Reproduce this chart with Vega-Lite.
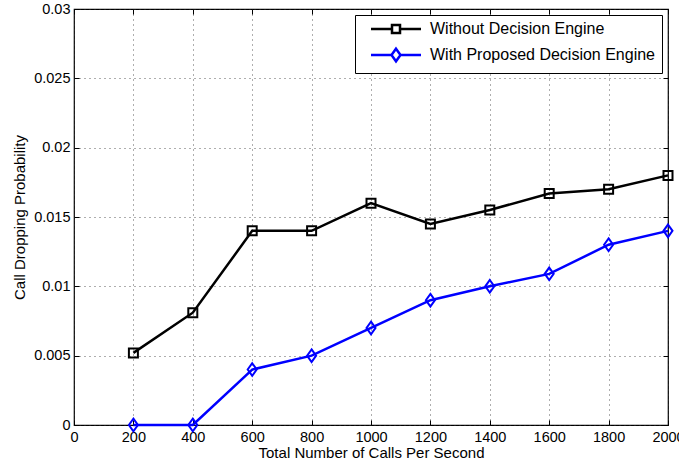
{
  "$schema": "https://vega.github.io/schema/vega-lite/v6.json",
  "width": 594,
  "height": 416,
  "autosize": {"type": "none"},
  "padding": {"left": 74, "top": 9, "right": 11, "bottom": 37},
  "background": "white",
  "config": {
    "font": "Liberation Sans",
    "view": {"stroke": "black", "strokeWidth": 1.2},
    "axis": {
      "domain": false,
      "labelFont": "Liberation Sans",
      "labelFontSize": 14.5,
      "labelColor": "black",
      "titleFont": "Liberation Sans",
      "titleFontSize": 15,
      "titleFontWeight": "normal",
      "titleColor": "black",
      "tickColor": "black",
      "tickWidth": 1,
      "tickSize": -5,
      "grid": true,
      "gridColor": "#333",
      "gridDash": [1, 4],
      "gridWidth": 0.8
    },
    "legend": {
      "title": null,
      "orient": "top-right",
      "offset": 6,
      "strokeColor": "black",
      "fillColor": "white",
      "padding": 6,
      "labelFont": "Liberation Sans",
      "labelFontSize": 16,
      "labelColor": "black",
      "labelLimit": 400,
      "symbolSize": 100,
      "symbolOffset": 27,
      "symbolStrokeWidth": 2.5,
      "symbolOpacity": 1,
      "rowPadding": 5,
      "labelOffset": 26
    }
  },
  "data": {
    "values": [
      {"calls": 200, "p": 0.0052, "series": "Without Decision Engine"},
      {"calls": 400, "p": 0.0081, "series": "Without Decision Engine"},
      {"calls": 600, "p": 0.014, "series": "Without Decision Engine"},
      {"calls": 800, "p": 0.014, "series": "Without Decision Engine"},
      {"calls": 1000, "p": 0.016, "series": "Without Decision Engine"},
      {"calls": 1200, "p": 0.0145, "series": "Without Decision Engine"},
      {"calls": 1400, "p": 0.0155, "series": "Without Decision Engine"},
      {"calls": 1600, "p": 0.0167, "series": "Without Decision Engine"},
      {"calls": 1800, "p": 0.017, "series": "Without Decision Engine"},
      {"calls": 2000, "p": 0.018, "series": "Without Decision Engine"},
      {"calls": 200, "p": 0.0, "series": "With Proposed Decision Engine"},
      {"calls": 400, "p": 0.0, "series": "With Proposed Decision Engine"},
      {"calls": 600, "p": 0.004, "series": "With Proposed Decision Engine"},
      {"calls": 800, "p": 0.005, "series": "With Proposed Decision Engine"},
      {"calls": 1000, "p": 0.007, "series": "With Proposed Decision Engine"},
      {"calls": 1200, "p": 0.009, "series": "With Proposed Decision Engine"},
      {"calls": 1400, "p": 0.01, "series": "With Proposed Decision Engine"},
      {"calls": 1600, "p": 0.0109, "series": "With Proposed Decision Engine"},
      {"calls": 1800, "p": 0.013, "series": "With Proposed Decision Engine"},
      {"calls": 2000, "p": 0.014, "series": "With Proposed Decision Engine"}
    ]
  },
  "resolve": {"axis": {"x": "independent", "y": "independent"}},
  "layer": [
    {
      "mark": {"type": "line", "strokeWidth": 2.5, "clip": false},
      "encoding": {
        "x": {
          "field": "calls", "type": "quantitative",
          "scale": {"domain": [0, 2000], "nice": false},
          "axis": {"title": "Total Number of Calls Per Second", "values": [0,200,400,600,800,1000,1200,1400,1600,1800,2000], "format": "d", "labelPadding": 10, "titlePadding": 2, "labelFlush": false}
        },
        "y": {
          "field": "p", "type": "quantitative",
          "scale": {"domain": [0, 0.03], "nice": false},
          "axis": {"title": "Call Dropping Probability", "values": [0,0.005,0.01,0.015,0.02,0.025,0.03], "format": "~g", "labelPadding": 9, "titlePadding": 6}
        },
        "color": {
          "field": "series", "type": "nominal",
          "scale": {"domain": ["Without Decision Engine", "With Proposed Decision Engine"], "range": ["black", "#0000ff"]}
        }
      }
    },
    {
      "transform": [{"filter": "datum.series === 'Without Decision Engine'"}],
      "mark": {"type": "point", "shape": "square", "filled": false, "strokeWidth": 2, "size": 81, "opacity": 1, "clip": false},
      "encoding": {
        "x": {
          "field": "calls", "type": "quantitative",
          "axis": {"orient": "top", "values": [0,200,400,600,800,1000,1200,1400,1600,1800,2000], "labels": false, "grid": false, "title": null}
        },
        "y": {
          "field": "p", "type": "quantitative",
          "axis": {"orient": "right", "values": [0,0.005,0.01,0.015,0.02,0.025,0.03], "labels": false, "grid": false, "title": null}
        },
        "color": {"field": "series", "type": "nominal"}
      }
    },
    {
      "transform": [{"filter": "datum.series === 'With Proposed Decision Engine'"}],
      "mark": {"type": "point", "shape": "M0,-1.4L1,0L0,1.4L-1,0Z", "filled": false, "strokeWidth": 2, "size": 81, "opacity": 1, "clip": false},
      "encoding": {
        "x": {"field": "calls", "type": "quantitative", "axis": null},
        "y": {"field": "p", "type": "quantitative", "axis": null},
        "color": {"field": "series", "type": "nominal"}
      }
    },
    {
      "mark": {"type": "point", "filled": false, "opacity": 0, "size": 1, "clip": false},
      "encoding": {
        "x": {"field": "calls", "type": "quantitative", "axis": null},
        "y": {"field": "p", "type": "quantitative", "axis": null},
        "color": {"field": "series", "type": "nominal"},
        "shape": {
          "field": "series", "type": "nominal",
          "scale": {
            "domain": ["Without Decision Engine", "With Proposed Decision Engine"],
            "range": ["M-5,0H-0.8M0.8,0H5M-0.8,-0.8H0.8V0.8H-0.8Z", "M-5,0H-0.9M0.9,0H5M0,-1.25L0.9,0L0,1.25L-0.9,0Z"]
          }
        }
      }
    }
  ]
}
